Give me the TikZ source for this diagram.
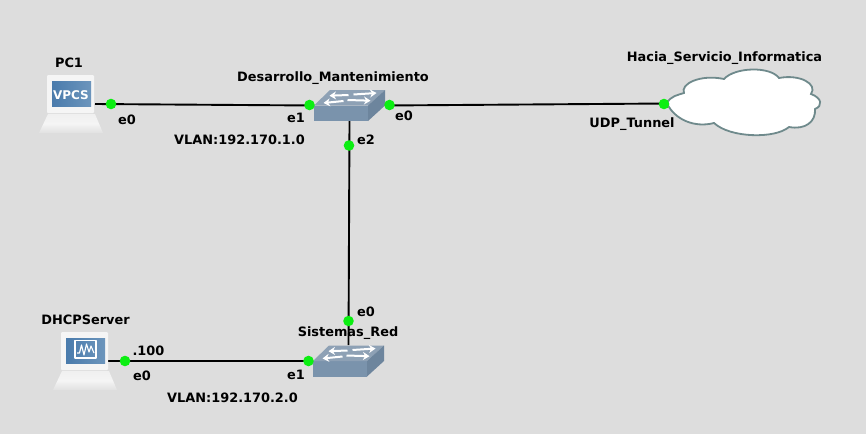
\documentclass[tikz,border=0pt]{standalone}
\usepackage{fontspec}
\setmainfont{DejaVu Sans}
\usetikzlibrary{arrows.meta}
\definecolor{bgc}{HTML}{DDDDDD}
\definecolor{dotc}{HTML}{0CEE12}
\definecolor{cloudc}{HTML}{6F8A8C}
\definecolor{swfront}{HTML}{7A93AC}
\definecolor{swtop}{HTML}{8EA1B5}
\definecolor{swside}{HTML}{6D859D}
\definecolor{scrA}{HTML}{4A7BAC}
\definecolor{scrB}{HTML}{6C95BC}
\tikzset{
  lbl/.style={font=\fontsize{12.9}{14}\selectfont\bfseries,text=black,inner sep=0pt},
  anchorbox/.style={inner sep=0pt,outer sep=0pt,minimum width=#1},
  wire/.style={draw=black,line width=1.9pt},
  dot/.style={circle,fill=dotc,inner sep=0pt,minimum size=10.6pt},
  swarrow/.style={white,line width=2pt,-{Stealth[length=6.5pt,width=8pt]}},
  pics/switchicon/.style={code={
    \fill[swfront] (-35.5,0) -- (18.5,0) -- (18.5,15.5) -- (-35.5,15.5) -- cycle;
    \fill[swtop] (-35.5,0) -- (-19.5,-15.5) -- (35.5,-15.5) -- (18.5,0) -- cycle;
    \fill[swside] (18.5,0) -- (35.5,-15.5) -- (35.5,0) -- (18.5,15.5) -- cycle;
    \draw[swarrow] (4,-11) -- (27,-12.5);
    \draw[swarrow] (-1,-10.5) -- (-20,-9.8);
    \draw[swarrow] (-6,-4.5) -- (-26,-2.5);
    \draw[swarrow] (-2,-5.5) -- (21,-4.8);
  }},
  pics/pcicon/.style={code={
    \shade[top color=black!6,bottom color=black!12,middle color=white!92!gray] (-32,29) -- (-23,10) -- (24,10) -- (32,29) -- cycle;
    \fill[black!4,rounded corners=1pt] (-24,-29) rectangle (23,9);
    \shade[left color=scrA,right color=scrB] (-19,-23) rectangle (20,2);
  }}
}
\begin{document}
\begin{tikzpicture}[x=1pt,y=-1pt]
\useasboundingbox (0,0) rectangle (866,434);
\fill[bgc] (0,0) rectangle (866,434);
% device place holders
\node[anchorbox=48pt,minimum height=38pt] (pc1) at (71,104) {};
\node[anchorbox=71pt,minimum height=31pt] (sw1) at (349.5,105.5) {};
\node[anchorbox=71pt,minimum height=32pt] (sw2) at (348.5,361) {};
\node[anchorbox=154pt,minimum height=66pt] (cloud) at (743,103.5) {};
\node[anchorbox=46pt,minimum height=37pt] (dhcp) at (85,361) {};
% connectors
\draw[wire] (pc1.east) -- (sw1.west);
\draw[wire] (sw1.east) -- (cloud.west);
\draw[wire] (sw1.south) -- (sw2.north);
\draw[wire] (dhcp.east) -- (sw2.west);
% icons
\pic at (71,104) {pcicon};
\node[font=\fontsize{12}{14}\selectfont\bfseries,text=white,inner sep=0pt] (vpcs) at (71,95) {VPCS};
\pic at (85,361) {pcicon};
\draw[white,line width=1.2pt,line join=round] (75,340.5) rectangle (96,358);
\draw[white,line width=1.1pt,line join=round] (77,353) -- (79.5,353) -- (81.5,345) -- (84,355) -- (86.5,344) -- (89,352) -- (91,346) -- (94,353);
\pic at (349.5,105.5) {switchicon};
\pic at (348.5,361) {switchicon};
\draw[fill=white,draw=cloudc,line width=1.8pt]
  (667,103.5)
  .. controls (670,96) and (678,95) .. (684,93)
  .. controls (680,84) and (700,74) .. (724,79)
  .. controls (735,67) and (770,66) .. (779,78)
  .. controls (800,74) and (818,84) .. (811,94)
  .. controls (822,98) and (823,106) .. (815,109)
  .. controls (816,122) and (805,130) .. (789,127)
  .. controls (775,139) and (730,138) .. (714,123)
  .. controls (695,128) and (675,120) .. (667,103.5) -- cycle;
% dots
\node[dot] (d1) at (111,104) {};
\node[dot] (d2) at (309.5,105) {};
\node[dot] (d3) at (389.5,105) {};
\node[dot] (d4) at (664,104) {};
\node[dot] (d5) at (349,145.5) {};
\node[dot] (d6) at (348.5,321) {};
\node[dot] (d7) at (125,361) {};
\node[dot] (d8) at (308.5,361) {};
% labels
\node[lbl] (l1) at (69,62.5) {PC1};
\node[lbl] (l2) at (127,119.5) {e0};
\node[lbl] (l3) at (333,78) {Desarrollo\_Mantenimiento};
\node[lbl] (l4) at (296,117.5) {e1};
\node[lbl] (l5) at (239.5,139.5) {VLAN:192.170.1.0};
\node[lbl] (l6) at (404,116) {e0};
\node[lbl] (l7) at (366,140) {e2};
\node[lbl] (l8) at (724.5,58) {Hacia\_Servicio\_Informatica};
\node[lbl] (l9) at (632,124) {UDP\_Tunnel};
\node[lbl] (l10) at (366,312) {e0};
\node[lbl] (l11) at (348,333) {Sistemas\_Red};
\node[lbl] (l12) at (85.5,320) {DHCPServer};
\node[lbl] (l13) at (148.5,351) {.100};
\node[lbl] (l14) at (142,376) {e0};
\node[lbl] (l15) at (296,375) {e1};
\node[lbl] (l16) at (232.5,398) {VLAN:192.170.2.0};
\end{tikzpicture}
\end{document}
